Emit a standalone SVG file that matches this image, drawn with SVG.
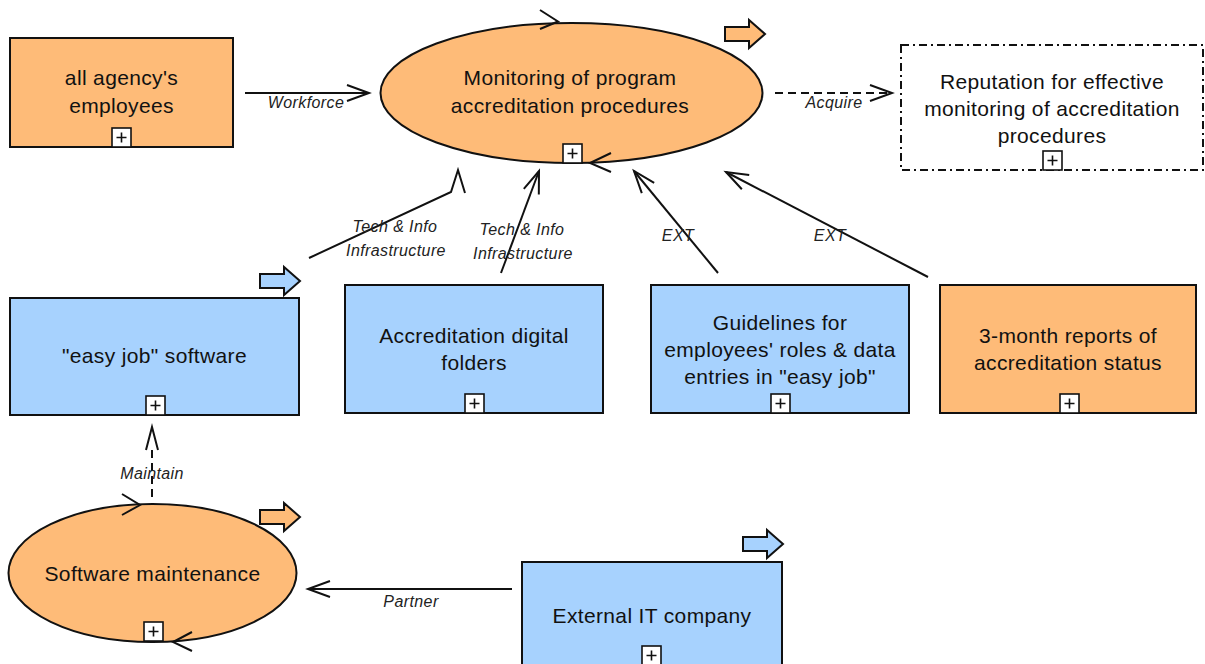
<svg xmlns="http://www.w3.org/2000/svg" width="1205" height="664" viewBox="0 0 1205 664">
  <style>
    .org { fill: #FEBB78; stroke: #111; stroke-width: 2; }
    .sys { fill: #A7D2FE; stroke: #111; stroke-width: 2; }
    .goal { fill: #fff; stroke: #111; stroke-width: 2; stroke-dasharray: 8 4 2 4; }
    .name { font-family: "Liberation Sans", Arial, sans-serif; font-size: 21px; fill: #111; text-anchor: middle; letter-spacing: 0.35px; }
    .lbl { font-family: "Liberation Sans", Arial, sans-serif; font-size: 16px; font-style: italic; fill: #222; text-anchor: middle; letter-spacing: 0.4px; }
    .edge { fill: none; stroke: #111; stroke-width: 2; }
    .dash { stroke-dasharray: 8 5; }
    .chev { fill: none; stroke: #111; stroke-width: 2; }
    .plus rect { fill: #fff; stroke: #111; stroke-width: 1.6; }
    .plus path { stroke: #111; stroke-width: 1.6; }
  </style>
  <defs>
    <marker id="open" markerUnits="userSpaceOnUse" viewBox="-24 -10 26 20" refX="0" refY="0" markerWidth="26" markerHeight="20" orient="auto" overflow="visible">
      <path d="M-22,-8 L0,0 L-22,8" fill="none" stroke="#111" stroke-width="2"/>
    </marker>
    <!-- block arrow marking the flow of a node -->
    <path id="flow" d="M0,7 H24 V0 L40,14 L24,28 V21 H0 Z" stroke="#111" stroke-width="2"/>
    <!-- expand box -->
    <g id="plusbox" class="plus">
      <rect x="0" y="0" width="19" height="19"/>
      <path d="M4.5,9.5 H14.5 M9.5,4.5 V14.5"/>
    </g>
  </defs>

  <!-- connectors -->
  <g id="connectors">
    <path class="edge" d="M245,93 H369" marker-end="url(#open)"/>
    <text class="lbl" x="306" y="108">Workforce</text>

    <path class="edge dash" d="M775,93 H892" marker-end="url(#open)"/>
    <text class="lbl" x="834" y="108">Acquire</text>

    <path class="edge" d="M309,258 L451,192 L458,170 L465,193"/>
    <text class="lbl" x="395" y="232">Tech &amp; Info</text>
    <text class="lbl" x="396" y="256">Infrastructure</text>

    <path class="edge" d="M501,273 L539,171" marker-end="url(#open)"/>
    <text class="lbl" x="522" y="235">Tech &amp; Info</text>
    <text class="lbl" x="523" y="259">Infrastructure</text>

    <path class="edge" d="M718,273 L634,171" marker-end="url(#open)"/>
    <text class="lbl" x="678" y="241">EXT</text>

    <path class="edge" d="M928,277 L726,172" marker-end="url(#open)"/>
    <text class="lbl" x="830" y="241">EXT</text>

    <path class="edge dash" d="M152,497 V450"/>
    <path class="edge" d="M146,450 L152,427 L158,450"/>
    <text class="lbl" x="152" y="479">Maintain</text>

    <path class="edge" d="M512,589 H308" marker-end="url(#open)"/>
    <text class="lbl" x="411" y="607">Partner</text>
  </g>

  <!-- all agency's employees -->
  <g id="agency-employees">
    <rect class="org" x="10" y="38" width="223" height="109"/>
    <text class="name" x="121.5" y="85">all agency's</text>
    <text class="name" x="121.5" y="113">employees</text>
    <use href="#plusbox" x="112" y="128"/>
  </g>

  <!-- Monitoring of program accreditation procedures -->
  <g id="monitoring">
    <ellipse class="org" cx="571.5" cy="93" rx="191" ry="70"/>
    <text class="name" x="570" y="85">Monitoring of program</text>
    <text class="name" x="570" y="113">accreditation procedures</text>
    <use href="#plusbox" x="563" y="144"/>
    <path class="chev" d="M540,10 L558,21.5 L540,29"/>
    <path class="chev" d="M611,153 L590,163 L611,172"/>
    <use href="#flow" x="725" y="20" fill="#FEBB78"/>
  </g>

  <!-- Reputation -->
  <g id="reputation">
    <rect class="goal" x="901" y="45" width="302" height="125"/>
    <text class="name" x="1052" y="89">Reputation for effective</text>
    <text class="name" x="1052" y="116">monitoring of accreditation</text>
    <text class="name" x="1052" y="143">procedures</text>
    <use href="#plusbox" x="1043" y="151"/>
  </g>

  <!-- "easy job" software -->
  <g id="easy-job-software">
    <rect class="sys" x="10" y="298" width="289" height="117"/>
    <text class="name" x="154.5" y="363">"easy job" software</text>
    <use href="#plusbox" x="146" y="396"/>
    <use href="#flow" x="260" y="267" fill="#A7D2FE"/>
  </g>

  <!-- Accreditation digital folders -->
  <g id="digital-folders">
    <rect class="sys" x="345" y="285" width="258" height="128"/>
    <text class="name" x="474" y="343">Accreditation digital</text>
    <text class="name" x="474" y="370">folders</text>
    <use href="#plusbox" x="465" y="394"/>
  </g>

  <!-- Guidelines -->
  <g id="guidelines">
    <rect class="sys" x="651" y="285" width="258" height="128"/>
    <text class="name" x="780" y="330">Guidelines for</text>
    <text class="name" x="780" y="357">employees' roles &amp; data</text>
    <text class="name" x="780" y="384">entries in "easy job"</text>
    <use href="#plusbox" x="771" y="394"/>
  </g>

  <!-- 3-month reports -->
  <g id="reports">
    <rect class="org" x="940" y="285" width="256" height="128"/>
    <text class="name" x="1068" y="343">3-month reports of</text>
    <text class="name" x="1068" y="370">accreditation status</text>
    <use href="#plusbox" x="1060" y="394"/>
  </g>

  <!-- Software maintenance -->
  <g id="software-maintenance">
    <ellipse class="org" cx="152.5" cy="573" rx="144" ry="69"/>
    <text class="name" x="152.5" y="581">Software maintenance</text>
    <use href="#plusbox" x="144" y="622"/>
    <path class="chev" d="M122,494 L140,505 L122,515"/>
    <path class="chev" d="M192,632 L173,642 L192,651"/>
    <use href="#flow" x="260" y="503" fill="#FEBB78"/>
  </g>

  <!-- External IT company -->
  <g id="external-it">
    <rect class="sys" x="522" y="562" width="260" height="110"/>
    <text class="name" x="652" y="623">External IT company</text>
    <use href="#plusbox" x="642" y="646"/>
    <use href="#flow" x="743" y="530" fill="#A7D2FE"/>
  </g>
</svg>
